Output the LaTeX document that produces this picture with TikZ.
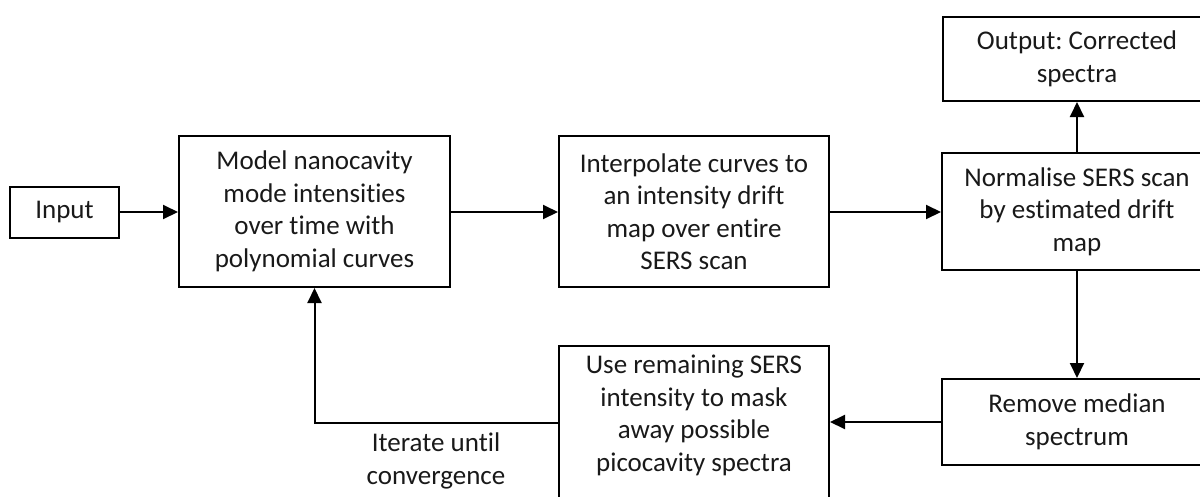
\documentclass[tikz,border=0pt]{standalone}
\usepackage{fontspec}
\setmainfont{Carlito}[Ligatures={NoCommon}]
\usetikzlibrary{arrows.meta}
\frenchspacing
\begin{document}
\begin{tikzpicture}[x=1pt,y=-1pt,
  stepbox/.style={draw=black, line width=2pt, inner sep=0pt, align=center,
    font=\fontsize{27}{32.5}\selectfont, text=black!90},
  plain/.style={inner sep=0pt, align=center,
    font=\fontsize{27}{32.5}\selectfont, text=black!90},
  arr/.style={line width=2pt, -{Triangle[length=15pt,width=14pt]}}]
\useasboundingbox (0,0) rectangle (1200,496);
\clip (0,0) rectangle (1200,496);

% process boxes
\node[stepbox, minimum width=109pt, minimum height=51pt] (input) at (64.5,212.5) {Input};
\node[stepbox, minimum width=271pt, minimum height=151pt] (model) at (314.5,211.5)
  {Model nanocavity\\mode intensities\\over time with\\polynomial curves};
\node[stepbox, minimum width=270pt, minimum height=151pt] (interp) at (694,211.5)
  {Interpolate curves to\\an intensity drift\\map over entire\\SERS scan};
\node[stepbox, minimum width=270pt, minimum height=117pt] (norm) at (1077,211.5)
  {Normalise SERS scan\\by estimated drift\\map};
\node[stepbox, minimum width=268pt, minimum height=84pt] (output) at (1077,59)
  {Output: Corrected\\spectra};
\node[stepbox, minimum width=270pt, minimum height=86pt] (remove) at (1077,422)
  {Remove median\\spectrum};
\node[stepbox, minimum width=270pt, minimum height=180pt] (useb) at (694,436) {};
\node[plain, anchor=north] (uset) at (694,355)
  {Use remaining SERS\\intensity to mask\\away possible\\picocavity spectra};

% connectors
\coordinate (turn) at (314.5,423);
\draw[arr] (input.east |- 0,212) -- (model.west |- 0,212);
\draw[arr] (model.east |- 0,212) -- (interp.west |- 0,212);
\draw[arr] (interp.east |- 0,212) -- (norm.west |- 0,212);
\draw[arr] (norm.north) -- (output.south);
\draw[arr] (norm.south) -- (remove.north);
\draw[arr] (remove.west) -- (remove.west -| useb.east);
\draw[arr] (useb.west |- turn) -- (turn) -- (model.south);

% loop label
\node[plain, anchor=north] (iter) at (436,433) {Iterate until\\convergence};
\end{tikzpicture}
\end{document}
